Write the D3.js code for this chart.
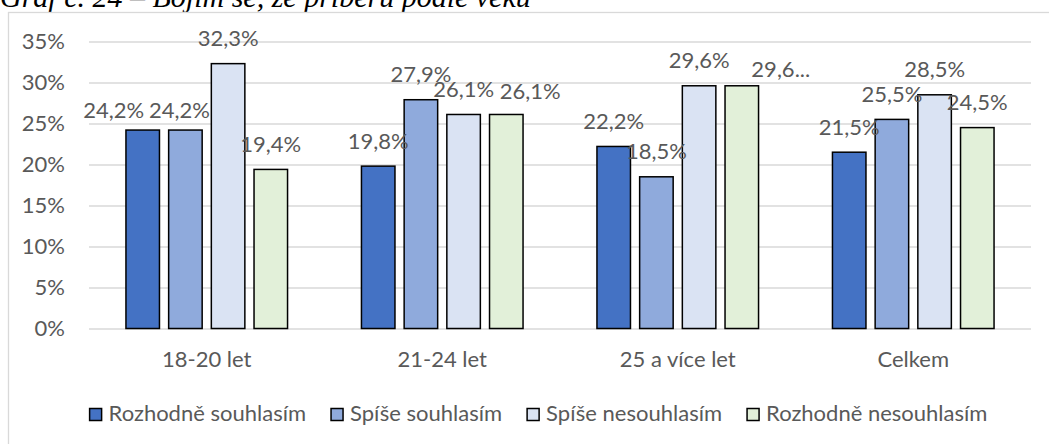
<!DOCTYPE html>
<html>
<head>
<meta charset="utf-8">
<script src="https://cdn.jsdelivr.net/npm/d3@7"></script>
<style>
  html, body { margin: 0; padding: 0; background: #fff; }
  svg { display: block; }
  text { font-family: Lato, "Noto Sans", sans-serif; }
</style>
</head>
<body>
<svg id="chart" width="1049" height="444"></svg>
<script>
// ---- data ----
const categories = ["18-20 let", "21-24 let", "25 a více let", "Celkem"];
const seriesNames = ["Rozhodně souhlasím", "Spíše souhlasím", "Spíše nesouhlasím", "Rozhodně nesouhlasím"];
const rozhodneSouhlasim   = [24.2, 19.8, 22.2, 21.5];
const spiseSouhlasim      = [24.2, 27.9, 18.5, 25.5];
const spiseNesouhlasim    = [32.3, 26.1, 29.6, 28.5];
const rozhodneNesouhlasim = [19.4, 26.1, 29.6, 24.5];
const yTicks = [0, 5, 10, 15, 20, 25, 30, 35];
const titleText = "Graf č. 24 – Bojím se, že přiberu podle věku";

// ---- styling ----
const colors = ["#4472C4", "#8FAADC", "#DAE3F3", "#E2F0D9"];
const textColor = "#595959";
const gridColor = "#D9D9D9";
const fontSize = 22;
// manual label adjustments as in the original (Excel moved these)
const labelNudge = {
  "0|0": { dx: -29, dy: 5 },
  "0|1": { dx: -6, dy: 5 },
  "1|3": { dx: 24, dy: 2 },
  "2|3": { dx: 39, dy: 9, truncate: true }
};

const seriesValues = [rozhodneSouhlasim, spiseSouhlasim, spiseNesouhlasim, rozhodneNesouhlasim];
const rows = [];
categories.forEach((c, ci) => {
  seriesValues.forEach((vals, si) => rows.push({ cat: c, ci, si, value: vals[ci] }));
});

const svg = d3.select("#chart");

// title (cropped at top in the original)
svg.append("text")
  .attr("x", 0).attr("y", 7)
  .style("font-family", "'Liberation Serif', 'Times New Roman', serif")
  .style("font-style", "italic")
  .style("font-size", "30px")
  .attr("fill", "#000")
  .text(titleText);

// chart frame
svg.append("rect")
  .attr("x", 8.5).attr("y", 12.5)
  .attr("width", 1100).attr("height", 500)
  .attr("fill", "#fff")
  .attr("stroke", gridColor).attr("stroke-width", 1.3);

const plot = { left: 89, right: 1031, top: 41.5, bottom: 328.5 };
const y = d3.scaleLinear().domain([0, 35]).range([plot.bottom, plot.top]);
const x = d3.scaleBand().domain(categories).range([plot.left, plot.right]);
const xs = d3.scaleBand().domain(d3.range(seriesNames.length)).range([-80.8, 80.8]).paddingInner(0.215);

// gridlines
const yAxis = d3.axisLeft(y).tickValues(yTicks).tickSize(-(plot.right - plot.left)).tickFormat(d => d + "%").tickPadding(24);
const gy = svg.append("g").attr("transform", `translate(${plot.left},0)`).call(yAxis);
gy.select(".domain").remove();
gy.selectAll(".tick line").attr("stroke", gridColor).attr("stroke-width", 1.3);
gy.selectAll(".tick text")
  .attr("fill", textColor)
  .style("font-size", fontSize + "px")
  .style("font-family", "Lato, sans-serif");

// x axis labels
const xAxis = d3.axisBottom(x).tickSize(0).tickPadding(23);
const gx = svg.append("g").attr("transform", `translate(0,${plot.bottom})`).call(xAxis);
gx.select(".domain").remove();
gx.selectAll(".tick text")
  .attr("fill", textColor)
  .style("font-size", fontSize + "px")
  .style("font-family", "Lato, sans-serif");

// bars
const barX = d => x(d.cat) + x.bandwidth() / 2 + xs(d.si);
svg.append("g").selectAll("rect").data(rows).join("rect")
  .attr("x", barX)
  .attr("y", d => y(d.value))
  .attr("width", xs.bandwidth())
  .attr("height", d => y(0) - y(d.value))
  .attr("fill", d => colors[d.si])
  .attr("stroke", "#000")
  .attr("stroke-width", 1.5);

// data labels
const fmt = v => d3.format(".1f")(v).replace(".", ",") + "%";
svg.append("g").selectAll("text").data(rows).join("text")
  .attr("x", d => barX(d) + xs.bandwidth() / 2 + ((labelNudge[d.ci + "|" + d.si] || {}).dx || 0))
  .attr("y", d => y(d.value) - 17.5 + ((labelNudge[d.ci + "|" + d.si] || {}).dy || 0))
  .attr("text-anchor", "middle")
  .attr("fill", textColor)
  .style("font-size", fontSize + "px")
  .text(d => {
    const n = labelNudge[d.ci + "|" + d.si];
    const t = fmt(d.value);
    return n && n.truncate ? t.slice(0, 4) + "..." : t;
  });

// legend
const legend = svg.append("g");
const items = legend.selectAll("g").data(seriesNames).join("g");
items.append("rect")
  .attr("width", 12).attr("height", 12)
  .attr("y", 408.5)
  .attr("fill", (d, i) => colors[i])
  .attr("stroke", "#000").attr("stroke-width", 1.5);
items.append("text")
  .attr("x", 19).attr("y", 421)
  .attr("fill", textColor)
  .style("font-size", fontSize + "px")
  .text(d => d);
const widths = [];
items.each(function () { widths.push(19 + this.querySelector("text").getComputedTextLength()); });
const spacing = 25;
const total = d3.sum(widths) + spacing * (widths.length - 1);
let cx = 538.5 - total / 2;
items.attr("transform", (d, i) => {
  const t = `translate(${cx},0)`;
  cx += widths[i] + spacing;
  return t;
});
</script>
</body>
</html>
